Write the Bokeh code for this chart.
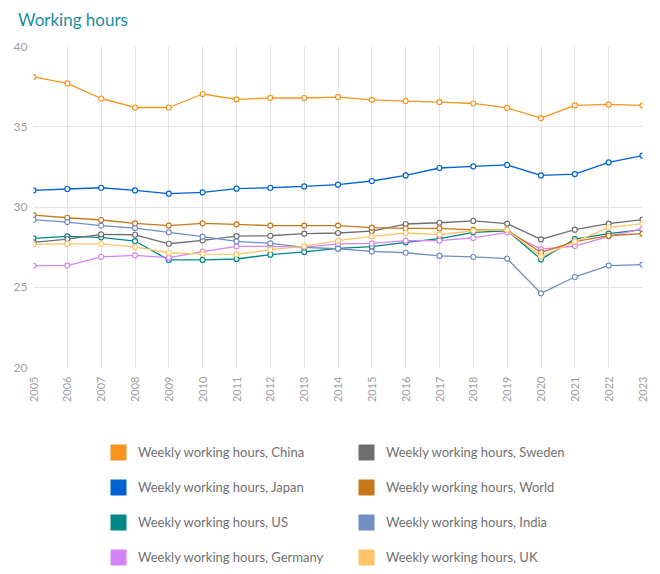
from bokeh.plotting import figure
from bokeh.models import FixedTicker, Legend, LegendItem, ColumnDataSource, Range1d, Div
from bokeh.layouts import column
from bokeh.embed import file_html
from bokeh.resources import INLINE
import math

title_text = "Working hours"
years = list(range(2005, 2024))

china = [38.11, 37.70, 36.76, 36.20, 36.20, 37.04, 36.70, 36.80, 36.79, 36.85, 36.68, 36.60, 36.54, 36.45, 36.18, 35.54, 36.33, 36.39, 36.33]
japan = [31.03, 31.12, 31.20, 31.03, 30.83, 30.91, 31.14, 31.20, 31.28, 31.39, 31.62, 31.97, 32.43, 32.53, 32.62, 31.97, 32.05, 32.78, 33.20]
us = [28.04, 28.17, 28.11, 27.88, 26.70, 26.70, 26.76, 27.03, 27.20, 27.42, 27.53, 27.80, 28.03, 28.42, 28.52, 26.74, 28.00, 28.34, 28.59]
germany = [26.35, 26.35, 26.89, 26.99, 26.84, 27.22, 27.55, 27.55, 27.49, 27.70, 27.73, 27.90, 27.90, 28.07, 28.42, 27.38, 27.57, 28.17, 28.63]
sweden = [27.80, 28.00, 28.29, 28.27, 27.71, 27.92, 28.19, 28.21, 28.34, 28.38, 28.50, 28.94, 29.02, 29.13, 28.96, 27.98, 28.59, 28.96, 29.21]
world = [29.50, 29.33, 29.19, 28.98, 28.84, 28.98, 28.92, 28.84, 28.84, 28.84, 28.71, 28.67, 28.67, 28.57, 28.57, 27.17, 27.84, 28.21, 28.34]
india = [29.21, 29.06, 28.84, 28.69, 28.42, 28.15, 27.86, 27.73, 27.48, 27.40, 27.23, 27.15, 26.95, 26.89, 26.78, 24.62, 25.64, 26.35, 26.41]
uk = [27.67, 27.70, 27.70, 27.51, 27.15, 27.07, 27.05, 27.34, 27.55, 27.90, 28.17, 28.38, 28.28, 28.52, 28.57, 26.91, 27.84, 28.71, 28.96]

series_names = ["China", "Japan", "US", "Germany", "Sweden", "World", "India", "UK"]
series_values = [china, japan, us, germany, sweden, world, india, uk]
series_colors = ["#f7941d", "#0063d1", "#00878a", "#d683f7", "#6e6e6e", "#c8761a", "#6f8fc2", "#ffc466"]
y_ticks = [20, 25, 30, 35, 40]

# title strip
tt = Div(text=title_text, width=652, height=28,
         styles={"font-family": "Lato", "font-size": "17px", "color": "#1a8e9e",
                 "line-height": "17px", "padding-left": "13px", "padding-top": "6px"})

p = figure(width=652, height=367, output_backend="svg", toolbar_location=None,
           x_range=(2005, 2023), y_range=(20, 40),
           min_border_left=33, min_border_right=10, min_border_top=8, min_border_bottom=38)
p.outline_line_color = None
p.background_fill_color = "white"
p.border_fill_color = "white"

p.xaxis.ticker = FixedTicker(ticks=years)
p.yaxis.ticker = FixedTicker(ticks=y_ticks)
p.xgrid.ticker = FixedTicker(ticks=years)
p.ygrid.ticker = FixedTicker(ticks=y_ticks)
for ax in (p.xaxis, p.yaxis):
    ax.axis_line_color = None
    ax.major_tick_line_color = None
    ax.minor_tick_line_color = None
    ax.major_label_text_color = "#a0a0a0"
    ax.major_label_text_font = "Lato"
    ax.major_label_text_font_size = "11px"
p.yaxis.major_label_text_font_size = "12px"
p.xaxis.major_label_orientation = math.pi / 2
p.xaxis.major_label_standoff = 3
p.yaxis.major_label_standoff = 0
p.xgrid.grid_line_color = "#e3e3e3"
p.ygrid.grid_line_color = "#e3e3e3"

for name, vals, col in zip(series_names, series_values, series_colors):
    src = ColumnDataSource(dict(x=years, y=vals))
    p.line("x", "y", source=src, line_color=col, line_width=1.3)
    p.scatter("x", "y", source=src, marker="circle", size=5, fill_color="white",
              line_color=col, line_width=1.2)

# legend in its own panel below the chart (swatch renderers kept out of its view)
lg = figure(width=652, height=164, output_backend="svg", toolbar_location=None,
            x_axis_type=None, y_axis_type=None, x_range=Range1d(0, 1), y_range=Range1d(0, 1),
            min_border_left=0, min_border_right=0, min_border_top=0, min_border_bottom=0)
lg.outline_line_color = None
lg.grid.visible = False
legend_items = []
for name, vals, col in zip(series_names, series_values, series_colors):
    sq = lg.rect(x=years[:1], y=vals[:1], width=1, height=1, fill_color=col, line_color=None)
    legend_items.append(LegendItem(label="Weekly working hours, " + name, renderers=[sq]))

legend = Legend(items=legend_items, location=(75, 2), nrows=4,
                orientation="vertical", padding=0, margin=0, spacing=15,
                glyph_width=20, glyph_height=20, label_height=20, label_width=203,
                label_standoff=10, border_line_color=None, background_fill_alpha=0,
                label_text_color="#707070", label_text_font="Lato",
                label_text_font_size="13px")
lg.add_layout(legend, "center")

layout = column(tt, p, lg, spacing=0)
open("out.html", "w").write(file_html(layout, INLINE))
